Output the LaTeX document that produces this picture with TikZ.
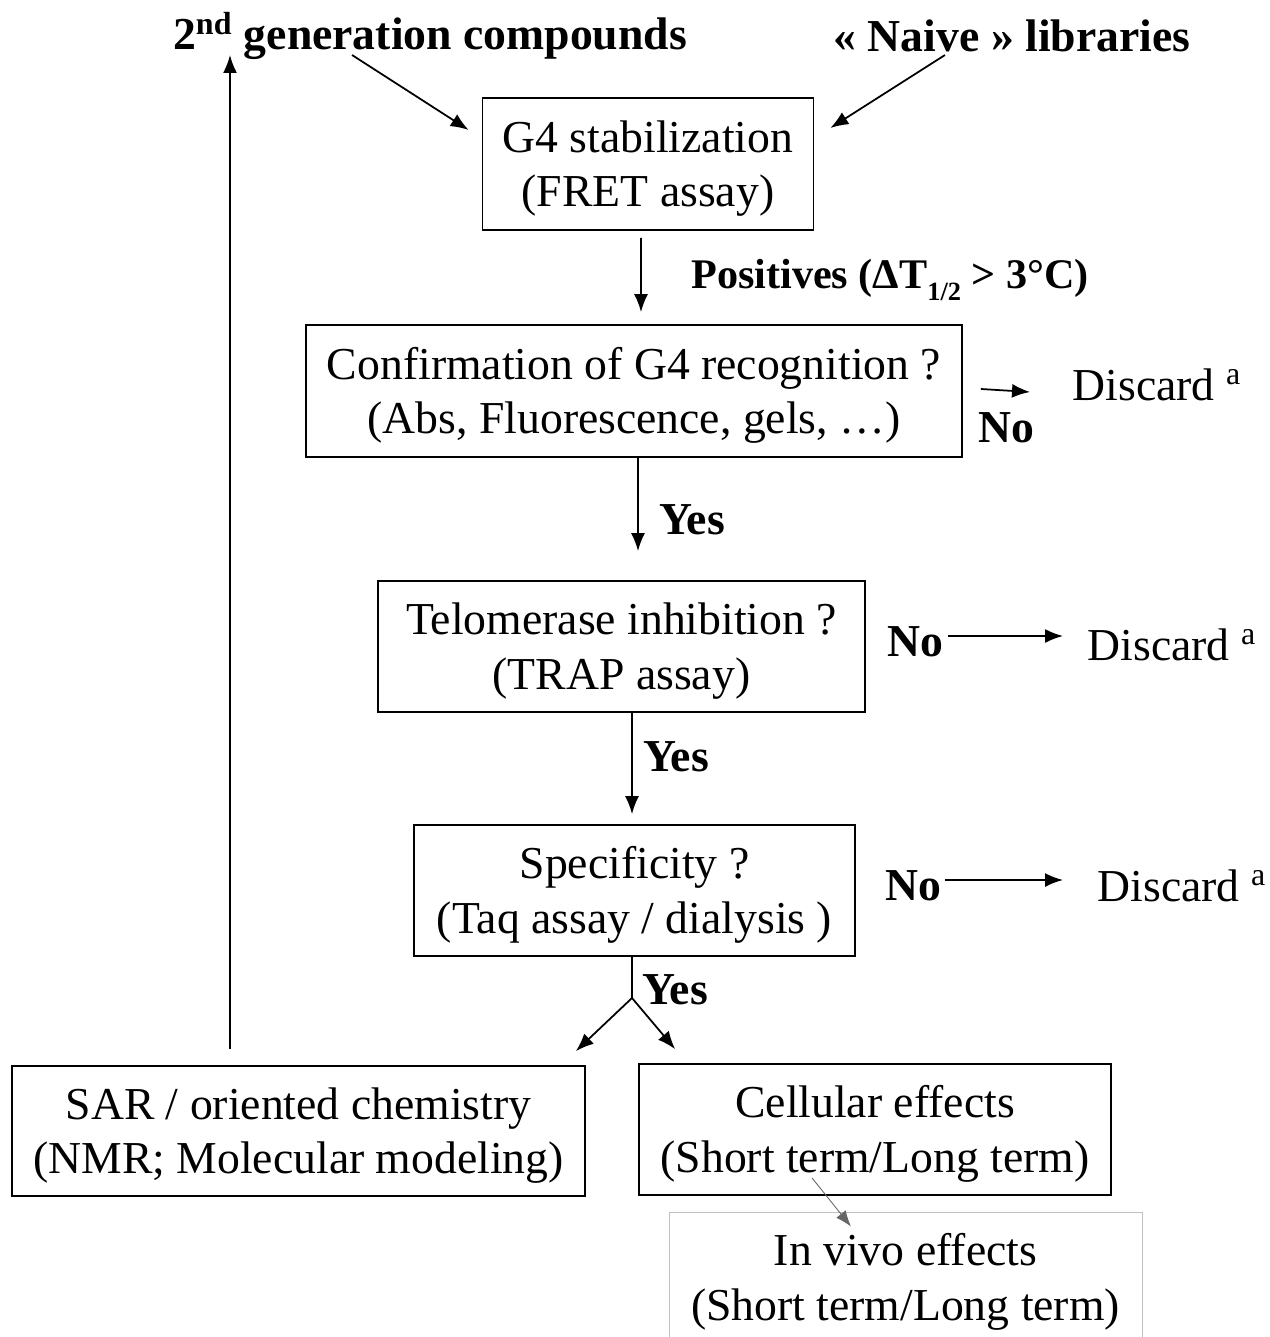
\documentclass[tikz,border=0pt]{standalone}
\usepackage{fontspec}
\setmainfont{Liberation Serif}
\usetikzlibrary{arrows.meta}
\newcommand{\boxstrut}{\rule{0pt}{8.2mm}}
\begin{document}
\begin{tikzpicture}[font=\fontsize{26}{31}\selectfont]

    \tikzset{
      stage/.style={
        draw,
        line width=1pt,
        align=center,
        inner sep=0pt,
      },
      lbl/.style={font=\fontsize{26}{31}\selectfont\bfseries, inner sep=0pt},
      arr/.style={line width=1pt, -{Latex[length=3.6mm,width=2.8mm]}},
    }
    \useasboundingbox (0,0) rectangle (25.38,-26.74);
    % sources
    \node[lbl] (gen) at (8.6,-0.72) {2\textsuperscript{nd} generation compounds};
    \node[lbl] (naive) at (20.24,-0.72) {« Naive » libraries};
    % screening cascade
    \node[stage, minimum width=6.62cm, minimum height=2.64cm] (g4) at (12.96,-3.28) {\boxstrut G4 stabilization\\(FRET assay)};
    \node[stage, minimum width=13.12cm, minimum height=2.64cm] (conf) at (12.68,-7.82) {\boxstrut Confirmation of G4 recognition ?\\(Abs, Fluorescence, gels, \dots)};
    \node[stage, minimum width=9.74cm, minimum height=2.62cm] (telo) at (12.43,-12.93) {\boxstrut Telomerase inhibition ?\\(TRAP assay)};
    \node[stage, minimum width=8.82cm, minimum height=2.62cm] (spec) at (12.69,-17.81) {\boxstrut Specificity ?\\(Taq assay / dialysis )};
    \node[stage, minimum width=11.46cm, minimum height=2.6cm] (sar) at (5.97,-22.62) {\boxstrut SAR / oriented chemistry\\(NMR; Molecular modeling)};
    \node[stage, minimum width=9.44cm, minimum height=2.62cm] (cell) at (17.5,-22.59) {\boxstrut Cellular effects\\(Short term/Long term)};
    \node[stage, draw=black!25, line width=0.5pt, minimum width=9.46cm, minimum height=2.62cm] (vivo) at (18.11,-25.55) {\boxstrut In vivo effects\\(Short term/Long term)};
    % discards
    \node[inner sep=0pt] (dis1) at (23.14,-7.7) {Discard \textsuperscript{a}};
    \node[inner sep=0pt] (dis2) at (23.44,-12.9) {Discard \textsuperscript{a}};
    \node[inner sep=0pt] (dis3) at (23.64,-17.72) {Discard \textsuperscript{a}};
    \node[lbl] (no1) at (20.12,-8.56) {No};
    \node[lbl] (no2) at (18.3,-12.84) {No};
    \node[lbl] (no3) at (18.26,-17.72) {No};
    \node[lbl, font=\fontsize{24}{28}\selectfont\bfseries] (pos) at (17.8,-5.6) {Positives (ΔT\raisebox{-0.6ex}{\fontsize{15}{15}\selectfont 1/2} > 3°C)};
    \node[lbl] (yes1) at (13.84,-10.4) {Yes};
    \node[lbl] (yes2) at (13.52,-15.14) {Yes};
    \node[lbl] (yes3) at (13.5,-19.8) {Yes};
    \coordinate (split) at (12.64,-19.96);

    \draw[arr] ([shift={(-1.56,-0.38)}]gen.center) -- ([shift={(-0.26,0.68)}]g4.west);
    \draw[arr] ([shift={(-1.34,-0.38)}]naive.center) -- ([shift={(0.32,0.72)}]g4.east);
    \draw[arr] ([shift={(-0.14,-0.14)}]g4.south) -- ([shift={(0.14,0.24)}]conf.north);
    \draw[arr] ([xshift=0.08cm]conf.south) -- ([shift={(0.33,0.58)}]telo.north);
    \draw[arr] ([xshift=0.21cm]telo.south) -- ([shift={(-0.05,0.2)}]spec.north);
    \draw[line width=1pt] (spec.south -| split) -- (split);
    \draw[arr] (split) -- ([shift={(-0.2,0.28)}]sar.north east);
    \draw[arr] (split) -- ([shift={(0.74,0.28)}]cell.north west);
    \draw[arr] ([shift={(-1.37,0.32)}]sar.north) -- ([shift={(-4.0,-0.38)}]gen.center);
    \draw[arr] ([shift={(0.36,0.04)}]conf.east) -- ([shift={(-2.54,-0.14)}]dis1.center);
    \draw[arr] ([shift={(0.66,0.12)}]no2.center) -- ([shift={(-2.18,0.18)}]dis2.center);
    \draw[arr] ([shift={(0.64,0.12)}]no3.center) -- ([shift={(-2.38,0.12)}]dis3.center);
    \draw[black!60, line width=0.5pt, -{Latex[length=3.2mm,width=2.4mm]}] ([shift={(-1.26,0.36)}]cell.south) -- ([shift={(-1.09,-0.3)}]vivo.north);

\end{tikzpicture}
\end{document}
